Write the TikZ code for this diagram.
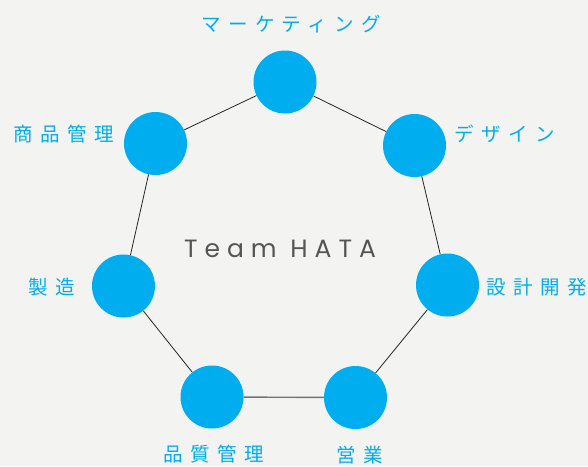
\documentclass[tikz,border=0pt]{standalone}
\usepackage{fontspec}
\setmainfont{Poppins}
\newfontfamily\jpfont{Noto Sans CJK JP}
\definecolor{hatablue}{RGB}{0,174,239}
\definecolor{bggray}{RGB}{243,243,242}
\definecolor{titlegray}{RGB}{85,85,85}

\begin{document}
\begin{tikzpicture}[
    x=1pt, y=-1pt,
    % Member circles
    member/.style={circle, fill=hatablue, minimum size=63pt, inner sep=0pt},
    % Connecting lines
    link/.style={black!85, line width=0.8pt},
    bottom-link/.style={black!55, line width=1.4pt},
    % Labels
    jp-label/.style={font=\jpfont\fontsize{19.5}{19.5}\selectfont\addfontfeature{LetterSpace=38}, text=hatablue, inner sep=0pt},
]

% Background
\useasboundingbox (0,0) rectangle (588,466);
\fill[bggray] (0,0) rectangle (588,466);

% === TEAM NAME (center) ===
\node[font=\fontsize{25}{25}\selectfont\addfontfeature{LetterSpace=28}, text=titlegray] (team) at (280,249) {Team HATA};

% === MEMBERS ===
\node[member] (mkt) at (285,82) {};
\node[member] (design) at (414.5,145.5) {};
\node[member] (dev) at (447.5,285) {};
\node[member] (sales) at (355.5,397.5) {};
\node[member] (qa) at (212,397) {};
\node[member] (mfg) at (123.5,286) {};
\node[member] (prod) at (155.5,143.5) {};

% Heptagon links
\draw[link] (mkt) -- (design);
\draw[link] (design) -- (dev);
\draw[link] (dev) -- (sales);
\draw[bottom-link] (sales) -- (qa);
\draw[link] (qa) -- (mfg);
\draw[link] (mfg) -- (prod);
\draw[link] (prod) -- (mkt);

% === LABELS ===
\node[jp-label] (mkt-label) at (291,24) {マーケティング};
\node[jp-label] (design-label) at (505,134) {デザイン};
\node[jp-label] (dev-label) at (537,287) {設計開発};
\node[jp-label] (sales-label) at (360,455) {営業};
\node[jp-label] (qa-label) at (214,454) {品質管理};
\node[jp-label] (mfg-label) at (52,287) {製造};
\node[jp-label] (prod-label) at (64,134) {商品管理};

\end{tikzpicture}
\end{document}
